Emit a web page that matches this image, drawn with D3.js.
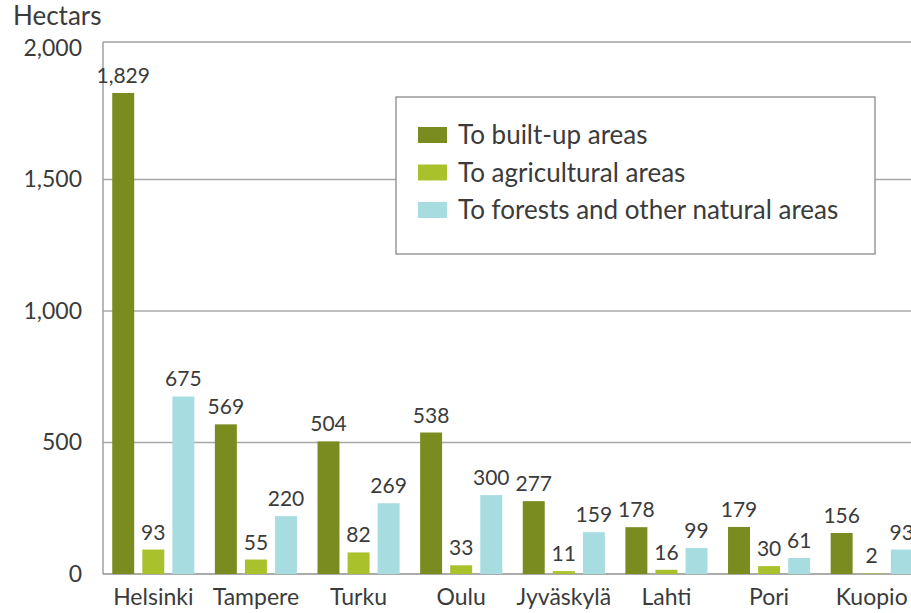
<!DOCTYPE html>
<html>
<head>
<meta charset="utf-8">
<script src="https://cdn.jsdelivr.net/npm/d3@7"></script>
<style>
  html, body { margin: 0; padding: 0; background: #fff; overflow: hidden; }
  svg { display: block; font-family: Lato, "Open Sans", sans-serif; }
</style>
</head>
<body>
<svg id="chart" width="911" height="613"></svg>
<script>
// Land use changes by city, hectares
const cities = ["Helsinki", "Tampere", "Turku", "Oulu", "Jyväskylä", "Lahti", "Pori", "Kuopio"];
const builtUp = [1829, 569, 504, 538, 277, 178, 179, 156];
const agricultural = [93, 55, 82, 33, 11, 16, 30, 2];
const forests = [675, 220, 269, 300, 159, 99, 61, 93];
const seriesNames = ["To built-up areas", "To agricultural areas", "To forests and other natural areas"];
const seriesColors = ["#7a8b1f", "#a9c22c", "#a7dde1"];
const yTicks = [0, 500, 1000, 1500, 2000];

const series = [builtUp, agricultural, forests];
const rows = cities.map((c, i) => ({ city: c, values: series.map((s, k) => ({ key: k, value: s[i] })) }));

const svg = d3.select("#chart");
const plotLeft = 103, frameTop = 42, plotBottom = 574, plotRight = 922;
const textColor = "#3b3b3b";

const y = d3.scaleLinear().domain([0, 2000]).range([plotBottom, 48]);
const x = d3.scaleBand().domain(cities).range([plotLeft, plotRight]).paddingInner(0.2).paddingOuter(0.09);
const x1 = d3.scaleBand().domain([0, 1, 2]).range([0, x.bandwidth()]).paddingInner(0.27);

// gridlines
svg.append("g")
  .selectAll("line")
  .data(yTicks.filter(t => t > 0 && t < 2000))
  .join("line")
  .attr("x1", plotLeft).attr("x2", plotRight)
  .attr("y1", d => y(d)).attr("y2", d => y(d))
  .attr("stroke", "#a8a8a8").attr("stroke-width", 1.3);

// top frame line
svg.append("line")
  .attr("x1", plotLeft).attr("x2", plotRight)
  .attr("y1", frameTop).attr("y2", frameTop)
  .attr("stroke", "#a0a0a0").attr("stroke-width", 1.5);

// y axis
const yAxis = svg.append("g")
  .attr("transform", `translate(${plotLeft},0)`)
  .call(d3.axisLeft(y).tickValues(yTicks).tickSize(0).tickPadding(21).tickFormat(d3.format(",")));
yAxis.select(".domain").remove();
yAxis.selectAll("text")
  .attr("font-size", 23).attr("fill", textColor)
  .attr("font-family", "Lato, 'Open Sans', sans-serif");

svg.append("line")
  .attr("x1", plotLeft).attr("x2", plotLeft)
  .attr("y1", frameTop).attr("y2", plotBottom)
  .attr("stroke", "#a0a0a0").attr("stroke-width", 1.5);

// baseline
svg.append("line")
  .attr("x1", plotLeft).attr("x2", plotRight)
  .attr("y1", y(0)).attr("y2", y(0))
  .attr("stroke", "#8f8f8f").attr("stroke-width", 1.5);

// bars
const groups = svg.append("g")
  .selectAll("g")
  .data(rows)
  .join("g")
  .attr("transform", d => `translate(${x(d.city)},0)`);

groups.selectAll("rect")
  .data(d => d.values)
  .join("rect")
  .attr("x", d => x1(d.key))
  .attr("width", x1.bandwidth())
  .attr("y", d => y(d.value))
  .attr("height", d => y(0) - y(d.value))
  .attr("fill", d => seriesColors[d.key]);

groups.selectAll("text.val")
  .data(d => d.values)
  .join("text")
  .attr("class", "val")
  .attr("x", d => x1(d.key) + x1.bandwidth() / 2)
  .attr("y", d => y(d.value) - 10)
  .attr("text-anchor", "middle")
  .attr("font-size", 21)
  .attr("fill", textColor)
  .text(d => d3.format(",")(d.value));

// category labels
svg.append("g")
  .selectAll("text")
  .data(cities)
  .join("text")
  .attr("x", d => x(d) + x.bandwidth() / 2)
  .attr("y", plotBottom + 31)
  .attr("text-anchor", "middle")
  .attr("font-size", 23)
  .attr("fill", textColor)
  .text(d => d);

// unit title
svg.append("text")
  .attr("x", 13).attr("y", 25)
  .attr("font-size", 26)
  .attr("fill", textColor)
  .text("Hectars");

// legend
const legend = svg.append("g");
legend.append("rect")
  .attr("x", 396).attr("y", 97)
  .attr("width", 479).attr("height", 157)
  .attr("fill", "#fff").attr("stroke", "#8a8a8a").attr("stroke-width", 1.3);
const items = legend.selectAll("g.item")
  .data(seriesNames)
  .join("g")
  .attr("class", "item")
  .attr("transform", (d, i) => `translate(418,${135 + i * 37.5})`);
items.append("rect")
  .attr("x", 0).attr("y", -8)
  .attr("width", 29).attr("height", 16)
  .attr("fill", (d, i) => seriesColors[i]);
items.append("text")
  .attr("x", 40).attr("y", 0)
  .attr("dy", "0.35em")
  .attr("font-size", 26)
  .attr("fill", textColor)
  .text(d => d);
</script>
</body>
</html>
